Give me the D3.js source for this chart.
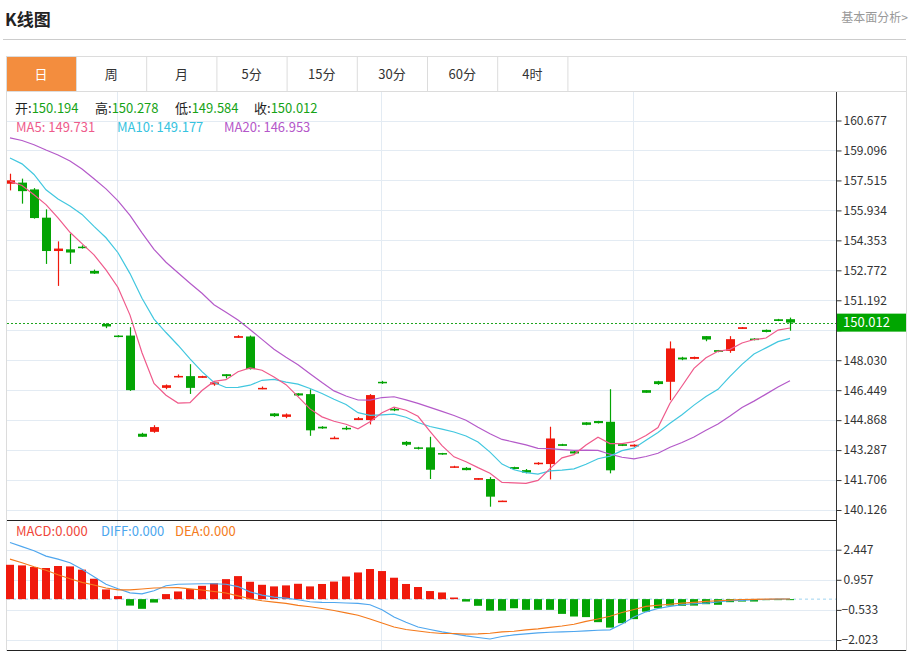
<!DOCTYPE html>
<html>
<head>
<meta charset="utf-8">
<script src="https://cdn.jsdelivr.net/npm/d3@7"></script>
<style>
  body { margin: 0; background: #fff; }
  svg { display: block; font-family: "Microsoft YaHei", "Noto Sans CJK SC", "Noto Sans", sans-serif; }
</style>
</head>
<body>
<svg id="chart" width="912" height="653"></svg>
<script>
// candles (one per trading day)
const opens = [157.34,157.40,157.04,155.55,153.79,153.88,154.02,152.74,149.94,149.33,
  149.33,144.15,144.25,146.57,147.12,147.19,147.10,146.75,147.29,149.21,
  149.28,146.50,145.22,145.04,146.28,146.24,144.52,143.87,144.46,144.87,
  144.87,146.89,145.46,143.72,143.43,143.43,143.13,142.35,142.35,141.72,
  141.76,140.55,142.39,142.23,142.55,142.55,143.60,143.22,144.75,144.82,
  144.78,143.60,143.48,146.45,146.92,146.89,148.17,148.10,149.30,148.56,
  148.52,149.68,149.17,149.63,150.19,150.194]
const highs = [157.87,157.61,157.11,155.99,154.30,154.71,154.09,152.81,149.98,149.35,
  149.77,144.20,144.60,146.75,147.28,147.82,147.21,146.92,147.29,149.35,
  149.33,146.64,145.24,145.22,146.29,146.49,144.55,144.01,144.55,145.03,
  146.24,146.94,145.52,143.76,143.46,143.99,143.14,142.46,142.39,141.81,
  141.86,140.62,142.41,142.29,142.65,144.52,143.62,143.29,144.76,144.83,
  146.50,143.64,143.59,146.45,146.94,149.02,148.21,148.22,149.30,148.57,
  149.30,149.78,149.19,149.65,150.21,150.278]
const lows = [156.99,156.29,155.50,153.11,151.95,153.11,153.92,152.58,149.72,149.24,
  146.41,143.99,144.20,146.50,147.12,146.25,147.10,146.68,147.07,149.21,
  147.54,146.50,145.04,144.97,146.15,144.04,144.41,143.87,144.34,144.87,
  144.64,146.78,145.34,143.50,143.32,141.76,143.04,142.35,142.22,141.72,
  140.30,140.55,142.27,142.06,142.51,141.74,143.51,143.08,144.60,144.69,
  142.06,143.50,143.46,146.31,146.73,145.92,148.03,148.08,149.03,148.45,
  148.42,149.68,149.08,149.50,150.09,149.584]
const closes = [157.52,156.95,155.53,153.79,153.92,153.71,153.95,152.60,149.81,149.26,
  146.45,143.99,144.50,146.71,147.20,146.57,147.19,146.86,147.19,149.30,
  147.56,146.57,145.08,145.17,146.17,144.33,144.43,143.94,144.38,144.97,
  146.19,146.83,145.38,143.57,143.36,142.25,143.06,142.43,142.23,141.81,
  140.83,140.62,142.29,142.10,142.62,143.90,143.51,143.11,144.62,144.71,
  142.22,143.51,143.57,146.31,146.77,148.65,148.07,148.20,149.12,148.47,
  149.14,149.77,149.10,149.52,150.10,150.012]

const ma5 = [157.48,157.25,156.76,156.24,155.54,154.78,154.18,153.59,152.80,151.87,
  150.41,148.42,146.80,146.18,145.77,145.79,146.43,146.91,147.00,147.42,
  147.62,147.50,147.14,146.74,146.11,145.46,145.04,144.81,144.65,144.41,
  144.78,145.26,145.55,145.39,145.07,144.28,143.52,142.93,142.67,142.36,
  142.07,141.58,141.56,141.53,141.69,142.31,142.88,143.05,143.55,143.97,
  143.63,143.63,143.73,144.06,144.48,145.76,146.67,147.60,148.16,148.50,
  148.60,148.94,149.12,149.20,149.62,149.73]
const ma10 = [158.70,158.39,157.83,157.02,156.54,156.17,155.72,155.09,154.49,153.70,
  152.60,151.30,150.20,149.49,148.82,148.10,147.43,146.85,146.59,146.60,
  146.71,146.97,147.02,146.87,146.77,146.54,146.27,145.97,145.69,145.26,
  145.12,145.15,145.18,145.02,144.74,144.53,144.39,144.24,144.03,143.71,
  143.18,142.55,142.25,142.10,142.02,142.19,142.23,142.30,142.54,142.83,
  142.97,143.26,143.39,143.81,144.22,144.70,145.15,145.66,146.11,146.49,
  147.18,147.81,148.36,148.68,149.01,149.18]
const ma20 = [159.76,159.62,159.40,159.12,158.86,158.54,158.12,157.60,157.07,156.44,
  155.67,154.75,153.88,153.20,152.64,152.09,151.56,150.96,150.56,150.15,
  149.65,149.13,148.61,148.18,147.79,147.32,146.85,146.41,146.14,145.93,
  145.92,146.06,146.10,145.94,145.75,145.54,145.33,145.11,144.86,144.49,
  144.15,143.85,143.71,143.56,143.38,143.36,143.31,143.27,143.28,143.27,
  143.07,142.91,142.82,142.95,143.12,143.44,143.69,143.98,144.33,144.66,
  145.08,145.53,145.87,146.24,146.62,146.95]

const macd = [1.70,1.67,1.59,1.54,1.64,1.62,1.46,1.01,0.48,0.15,
  -0.32,-0.48,-0.17,0.25,0.38,0.50,0.66,0.79,0.99,1.14,
  0.86,0.71,0.63,0.68,0.76,0.63,0.75,0.87,1.12,1.32,
  1.49,1.39,1.06,0.75,0.60,0.40,0.33,0.08,-0.12,-0.33,
  -0.57,-0.57,-0.45,-0.53,-0.53,-0.53,-0.73,-0.86,-0.89,-1.14,
  -1.41,-1.19,-0.99,-0.62,-0.45,-0.32,-0.33,-0.32,-0.25,-0.28,
  -0.15,-0.12,-0.12,-0.05,-0.03,-0.01]
const diff = [2.80,2.60,2.40,2.13,1.98,1.80,1.48,1.11,0.74,0.51,
  0.31,0.26,0.41,0.66,0.74,0.75,0.76,0.76,0.74,0.62,
  0.36,0.20,0.10,0.05,-0.03,-0.13,-0.16,-0.17,-0.19,-0.21,
  -0.28,-0.53,-0.88,-1.15,-1.38,-1.50,-1.62,-1.72,-1.82,-1.90,
  -1.97,-1.85,-1.77,-1.72,-1.67,-1.64,-1.62,-1.60,-1.57,-1.54,
  -1.52,-1.23,-0.88,-0.63,-0.46,-0.36,-0.28,-0.23,-0.20,-0.14,
  -0.08,-0.06,-0.03,-0.02,0.00,0.01]
const dea = [1.98,1.80,1.60,1.43,1.21,1.01,0.83,0.70,0.55,0.46,
  0.46,0.50,0.55,0.56,0.57,0.51,0.45,0.38,0.30,0.16,
  0.02,-0.08,-0.15,-0.21,-0.31,-0.38,-0.46,-0.56,-0.68,-0.80,
  -0.98,-1.18,-1.38,-1.50,-1.58,-1.65,-1.70,-1.70,-1.73,-1.72,
  -1.69,-1.62,-1.59,-1.52,-1.47,-1.40,-1.33,-1.24,-1.10,-0.98,
  -0.85,-0.66,-0.51,-0.36,-0.30,-0.25,-0.20,-0.16,-0.11,-0.08,
  -0.05,-0.02,-0.01,0.00,0.01,0.01]

const priceTicks = [160.677,159.096,157.515,155.934,154.353,152.772,151.192,149.611,148.030,146.449,144.868,143.287,141.706,140.126]
const macdTicks = [2.447,0.957,-0.533,-2.023]
const monthStarts = [9, 31, 52]   // candles where the vertical grid lines fall
const tabs = ['日','周','月','5分','15分','30分','60分','4时']
const lastInfo = [['开:','150.194'],['高:','150.278'],['低:','149.584'],['收:','150.012']]
const maInfo = [['MA5: 149.731','#ee5b8b'],['MA10: 149.177','#36c3e0'],['MA20: 146.953','#b457c9']]
const macdInfo = [['MACD:0.000','#f0473a'],['DIFF:0.000','#4ba6ee'],['DEA:0.000','#f47b20']]

const UP = '#f0190c', DOWN = '#04a404'

svg = d3.select('#chart')

// layout
left = 7; right = 836; outerRight = 906
mainTop = 92; mainBottom = 520; macdBottom = 650

xScale = d3.scaleLinear().domain([0, closes.length - 1]).range([10, 10 + 12 * (closes.length - 1)])
yScale = d3.scaleLinear().domain([140.126, 160.677]).range([510, 120.5])
mScale = d3.scaleLinear().domain([-2.023, 2.447]).range([640, 549.7])

// header
svg.append('text').attr('x', 5).attr('y', 26).text('K线图')
  .attr('font-size', 17).attr('font-weight', 'bold').attr('fill', '#222')
svg.append('text').attr('x', 908).attr('y', 22).attr('text-anchor', 'end').text('基本面分析>')
  .attr('font-size', 12).attr('fill', '#999')
svg.append('line').attr('x1', 3).attr('x2', 906).attr('y1', 39.5).attr('y2', 39.5).attr('stroke', '#ccc')

// frame + tabs
svg.append('rect').attr('x', 6.5).attr('y', 56.5).attr('width', outerRight - 6).attr('height', macdBottom - 56)
  .attr('fill', 'none').attr('stroke', '#dcdcdc')
svg.append('line').attr('x1', 6).attr('x2', outerRight).attr('y1', 91.5).attr('y2', 91.5).attr('stroke', '#dcdcdc')
tabs.forEach((t, i) => {
  x0 = 6 + i * 70.2
  if (i == 0) svg.append('rect').attr('x', x0 + 1).attr('y', 57).attr('width', 69.5).attr('height', 34).attr('fill', '#f38d3e')
  svg.append('line').attr('x1', x0 + 70.5).attr('x2', x0 + 70.5).attr('y1', 56).attr('y2', 91).attr('stroke', '#dcdcdc')
  svg.append('text').attr('x', x0 + 35).attr('y', 79).attr('text-anchor', 'middle').text(t)
    .attr('font-size', 13).attr('fill', i == 0 ? '#fff' : '#333')
})

// grid
svg.append('g').selectAll('line').data(priceTicks).join('line')
  .attr('x1', left).attr('x2', right)
  .attr('y1', d => Math.round(yScale(d)) + 0.5).attr('y2', d => Math.round(yScale(d)) + 0.5)
  .attr('stroke', '#e3ebf3')
svg.append('g').selectAll('line').data(macdTicks).join('line')
  .attr('x1', left).attr('x2', right)
  .attr('y1', d => Math.round(mScale(d)) + 0.5).attr('y2', d => Math.round(mScale(d)) + 0.5)
  .attr('stroke', '#e3ebf3')
svg.append('g').selectAll('line').data(monthStarts).join('line')
  .attr('x1', d => xScale(d) - 0.5).attr('x2', d => xScale(d) - 0.5)
  .attr('y1', mainTop).attr('y2', macdBottom)
  .attr('stroke', '#e3ebf3')

// info lines
lastInfo.forEach(([lab, val], i) => {
  t = svg.append('text').attr('x', [15, 95, 175, 254][i]).attr('y', 113).attr('font-size', 13)
  t.append('tspan').attr('fill', '#222').text(lab)
  t.append('tspan').attr('fill', '#16a316').text(val)
})
maInfo.forEach(([s, c], i) => {
  svg.append('text').attr('x', [16, 117, 224][i]).attr('y', 132).attr('font-size', 13).attr('fill', c).text(s)
})

// clip for the main panel
svg.append('clipPath').attr('id', 'mainClip').append('rect')
  .attr('x', left).attr('y', mainTop).attr('width', right - left).attr('height', mainBottom - mainTop)

main = svg.append('g').attr('clip-path', 'url(#mainClip)')

// candles
idx = d3.range(closes.length)
colorOf = i => closes[i] > opens[i] ? UP : DOWN
main.append('g').selectAll('line').data(idx).join('line')
  .attr('x1', i => xScale(i) + 0.5).attr('x2', i => xScale(i) + 0.5)
  .attr('y1', i => yScale(highs[i])).attr('y2', i => yScale(lows[i]))
  .attr('stroke', colorOf).attr('stroke-width', 1.2)
main.append('g').selectAll('rect').data(idx).join('rect')
  .attr('x', i => xScale(i) - 4)
  .attr('width', 9)
  .attr('y', i => yScale(Math.max(opens[i], closes[i])))
  .attr('height', i => Math.max(1.5, Math.abs(yScale(opens[i]) - yScale(closes[i]))))
  .attr('fill', colorOf)

// moving averages
lineMain = d3.line().x((d, i) => xScale(i)).y(d => yScale(d))
;[[ma20, '#b45ac9'], [ma10, '#42c7df'], [ma5, '#ef5a8b']].forEach(([arr, c]) => {
  main.append('path').attr('d', lineMain(arr)).attr('fill', 'none').attr('stroke', c).attr('stroke-width', 1.2)
})

// last price marker
lastPrice = closes[closes.length - 1]
lastY = yScale(lastPrice)
svg.append('line').attr('x1', left).attr('x2', right).attr('y1', Math.round(lastY) + 0.5).attr('y2', Math.round(lastY) + 0.5)
  .attr('stroke', '#1ea51e').attr('stroke-dasharray', '2,2')

// MACD
svg.append('line').attr('x1', left).attr('x2', right).attr('y1', mScale(0)).attr('y2', mScale(0))
  .attr('stroke', '#9fd3f0').attr('stroke-dasharray', '3,3')
svg.append('g').selectAll('rect').data(idx).join('rect')
  .attr('x', i => xScale(i) - 4)
  .attr('width', 8)
  .attr('y', i => Math.min(mScale(0), mScale(macd[i])))
  .attr('height', i => Math.max(1, Math.abs(mScale(macd[i]) - mScale(0))))
  .attr('fill', i => macd[i] >= 0 ? UP : DOWN)
lineMacd = d3.line().x((d, i) => xScale(i)).y(d => mScale(d))
svg.append('path').attr('d', lineMacd(diff)).attr('fill', 'none').attr('stroke', '#4ea6ee').attr('stroke-width', 1.1)
svg.append('path').attr('d', lineMacd(dea)).attr('fill', 'none').attr('stroke', '#f47a1c').attr('stroke-width', 1.1)
macdInfo.forEach(([s, c], i) => {
  svg.append('text').attr('x', [16, 101, 175][i]).attr('y', 536).attr('font-size', 13).attr('fill', c).text(s)
})

// panel borders
svg.append('line').attr('x1', left).attr('x2', right).attr('y1', mainBottom + 0.5).attr('y2', mainBottom + 0.5).attr('stroke', '#222')
svg.append('line').attr('x1', left).attr('x2', outerRight).attr('y1', macdBottom + 0.5).attr('y2', macdBottom + 0.5).attr('stroke', '#222')
svg.append('line').attr('x1', right + 0.5).attr('x2', right + 0.5).attr('y1', mainTop).attr('y2', macdBottom + 1).attr('stroke', '#333')

// the tick label hidden behind the price box only shows below it
svg.append('clipPath').attr('id', 'belowBox').append('rect')
  .attr('x', right).attr('y', lastY + 9).attr('width', outerRight - right).attr('height', 20)

// right axes
axisP = d3.axisRight(yScale).tickValues(priceTicks).tickSize(5).tickFormat(d3.format('.3f'))
gP = svg.append('g').attr('transform', `translate(${right + 0.5},0)`).call(axisP)
axisM = d3.axisRight(mScale).tickValues(macdTicks).tickSize(5).tickFormat(d3.format('.3f'))
gM = svg.append('g').attr('transform', `translate(${right + 0.5},0)`).call(axisM)
;[gP, gM].forEach(g => {
  g.select('.domain').remove()
  g.selectAll('line').attr('stroke', '#333')
  g.selectAll('text').attr('x', 7).attr('font-size', 12).attr('fill', '#333')
    .attr('font-family', '"Microsoft YaHei", "Noto Sans CJK SC", "Noto Sans", sans-serif')
})
gM.selectAll('text').attr('x', d => d < 0 ? 5 : 7)
gP.selectAll('.tick').filter(d => Math.abs(yScale(d) - lastY) < 12)
  .select('text').attr('clip-path', 'url(#belowBox)')

// current price box
svg.append('rect').attr('x', right + 1).attr('y', lastY - 9).attr('width', outerRight - right - 1).attr('height', 18).attr('fill', '#00a600')
svg.append('text').attr('x', right + 7).attr('y', lastY + 4.5).attr('font-size', 13).attr('fill', '#fff').text(d3.format('.3f')(lastPrice))
</script>
</body>
</html>
